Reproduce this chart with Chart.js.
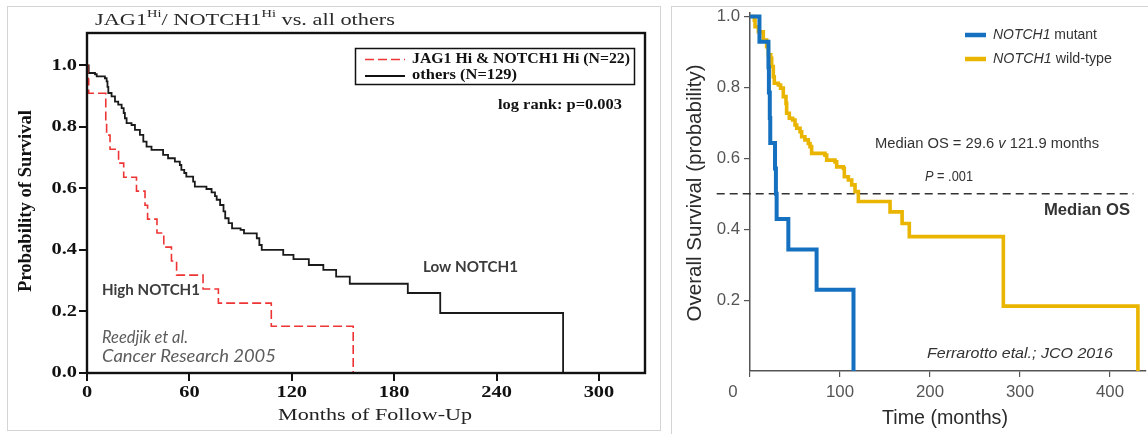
<!DOCTYPE html>
<html lang="en">
<head>
<meta charset="UTF-8">
<title>NOTCH1 survival curves</title>
<script src="https://cdn.jsdelivr.net/npm/chart.js@4.4.1/dist/chart.umd.min.js"></script>
<style>
  html, body { margin: 0; padding: 0; background: #fff; }
  body { width: 1148px; height: 434px; position: relative; overflow: hidden; }
  .frame { position: absolute; border: 1px solid #d4d4d4; box-sizing: border-box; }
  #leftFrame { left: 7px; top: 6px; width: 654px; height: 425px; }
  #rightFrame { left: 671px; top: 6px; width: 490px; height: 440px; }
  canvas { position: absolute; top: 0; }
  #leftChart { left: 0; }
  #rightChart { left: 661px; }
</style>
</head>
<body>
<div class="frame" id="leftFrame"></div>
<div class="frame" id="rightFrame"></div>
<canvas id="leftChart" width="661" height="434"></canvas>
<canvas id="rightChart" width="487" height="434"></canvas>

<script>
  // --- Reedijk 2005: months of follow-up vs probability of survival ---
  const highTimes = [0, 0.5, 1, 11, 11.5, 13.5, 18.5, 21.5, 29, 34, 35.5, 41, 45, 49.5, 52.5, 68, 77, 108, 156];
  const highSurv  = [1, 0.955, 0.909, 0.818, 0.773, 0.727, 0.682, 0.636, 0.591, 0.545, 0.5, 0.455, 0.409, 0.364, 0.318, 0.273, 0.227, 0.152, 0];

  const lowTimes = [0, 1, 4.7, 5.7, 10.5, 11.5, 12, 12.5, 14.4, 16.4, 18.3, 20.3, 21.5, 22.2, 23.2, 26.1, 28.1, 31, 33, 34.9,
                    37.8, 44.6, 47.5, 51.5, 54.4, 55.3, 57, 58.2, 62.2, 63.2, 70, 73, 75, 76, 78, 80, 81, 83, 85, 90,
                    92, 99.5, 101, 102.4, 115, 121, 130, 138.5, 146, 154, 188, 207, 279];
  const lowSurv  = [1, 0.975, 0.971, 0.964, 0.958, 0.948, 0.93, 0.91, 0.899, 0.882, 0.872, 0.861, 0.845, 0.828, 0.812, 0.806, 0.79, 0.774, 0.752, 0.736,
                    0.725, 0.709, 0.698, 0.687, 0.676, 0.66, 0.65, 0.638, 0.622, 0.606, 0.598, 0.587, 0.575, 0.563, 0.546, 0.525, 0.503, 0.487, 0.47, 0.465,
                    0.454, 0.438, 0.416, 0.4, 0.384, 0.37, 0.351, 0.335, 0.313, 0.29, 0.26, 0.195, 0];

  const leftXTicks = [0, 60, 120, 180, 240, 300];
  const leftYTicks = [0, 0.2, 0.4, 0.6, 0.8, 1.0];

  // --- Ferrarotto 2016: time (months) vs overall survival ---
  const mutTimes = [0, 10.5, 20.5, 21, 22, 22.5, 27.8, 28.8, 29.6, 42.6, 74, 115];
  const mutSurv  = [1, 0.929, 0.857, 0.786, 0.714, 0.643, 0.571, 0.5, 0.429, 0.343, 0.229, 0];

  const wtTimes = [0, 4.8, 5.6, 9.3, 14.8, 18.5, 20.4, 23, 24.1, 25.9, 27, 31.5, 34, 37, 40, 40.7, 43.7, 47.4, 50, 51.9,
                   55.6, 57.4, 61, 64.8, 66.7, 68.5, 83.3, 85.2, 94.4, 96.3, 103.7, 104.8, 109.3, 113, 116.7, 120.4, 155.6, 169, 177, 281.5, 431];
  const wtSurv  = [1, 0.99, 0.971, 0.957, 0.934, 0.915, 0.892, 0.882, 0.859, 0.83, 0.812, 0.807, 0.798, 0.774, 0.755, 0.727, 0.713, 0.708, 0.694, 0.685,
                   0.675, 0.661, 0.652, 0.642, 0.633, 0.614, 0.609, 0.595, 0.59, 0.576, 0.572, 0.548, 0.539, 0.525, 0.506, 0.478, 0.449, 0.416, 0.379, 0.183, 0];

  const medianX = [-37, 426];
  const medianLevel = 0.5;

  const rightXTicks = [0, 100, 200, 300, 400];
  const rightYTicks = [0.2, 0.4, 0.6, 0.8, 1.0];

  const SERIF = '"Liberation Serif", "Times New Roman", serif';
  const SANS = '"Liberation Sans", Arial, sans-serif';
  const LATO = 'Lato, "Open Sans", sans-serif';

  const toPoints = (times, surv) => times.map((t, i) => ({ x: t, y: surv[i] }));

  // draws a run of text pieces; optional target width squeezes/stretches horizontally
  function drawRich(ctx, segs, x, y, opts = {}) {
    const { width, sx: fixedSx, align = 'left', color = '#222', angle = 0 } = opts;
    let total = 0;
    const ws = segs.map(s => {
      ctx.font = s.font;
      const w = ctx.measureText(s.text).width;
      total += w;
      return w;
    });
    const sx = width ? width / total : (fixedSx || 1);
    ctx.save();
    ctx.translate(x, y);
    if (angle) ctx.rotate(angle);
    ctx.scale(sx, 1);
    let cx = align === 'center' ? -total / 2 : align === 'right' ? -total : 0;
    ctx.textBaseline = 'middle';
    ctx.textAlign = 'left';
    segs.forEach((s, i) => {
      ctx.font = s.font;
      ctx.fillStyle = s.color || color;
      ctx.fillText(s.text, cx, s.dy || 0);
      cx += ws[i];
    });
    ctx.restore();
  }

  const leftDecor = {
    id: 'leftDecor',
    afterDraw(chart) {
      const { ctx, chartArea: a, scales: { x, y } } = chart;
      ctx.save();
      ctx.strokeStyle = '#111';
      ctx.lineWidth = 2.4;
      ctx.strokeRect(a.left, a.top, a.right - a.left, a.bottom - a.top);

      leftYTicks.forEach(v => drawRich(ctx, [{ text: v.toFixed(1), font: `bold 17px ${SERIF}` }],
        77, y.getPixelForValue(v), { align: 'right', sx: 1.2, color: '#111' }));
      leftXTicks.forEach(v => drawRich(ctx, [{ text: String(v), font: `bold 17px ${SERIF}` }],
        x.getPixelForValue(v), 393, { align: 'center', sx: 1.2, color: '#111' }));

      drawRich(ctx, [{ text: 'Probability of Survival', font: `bold 18px ${SERIF}` }],
        26, 201, { align: 'center', angle: -Math.PI / 2, width: 182, color: '#111' });
      drawRich(ctx, [{ text: 'Months of Follow-Up', font: `17px ${SERIF}` }],
        375, 416, { align: 'center', width: 194, color: '#222' });

      drawRich(ctx, [
        { text: 'JAG1', font: `17px ${SERIF}` },
        { text: 'Hi', font: `11px ${SERIF}`, dy: -7 },
        { text: '/ NOTCH1', font: `17px ${SERIF}` },
        { text: 'Hi', font: `11px ${SERIF}`, dy: -7 },
        { text: ' vs. all others', font: `17px ${SERIF}` }
      ], 95, 21, { width: 300, color: '#2a2a2a' });

      // legend box
      ctx.lineWidth = 1.5;
      ctx.strokeStyle = '#111';
      ctx.strokeRect(355.5, 48.5, 279, 36);
      ctx.beginPath();
      ctx.setLineDash([9, 4]);
      ctx.strokeStyle = '#ee3535';
      ctx.moveTo(365, 59.5); ctx.lineTo(405, 59.5);
      ctx.stroke();
      ctx.setLineDash([]);
      ctx.beginPath();
      ctx.strokeStyle = '#111';
      ctx.lineWidth = 1.8;
      ctx.moveTo(365, 76); ctx.lineTo(405, 76);
      ctx.stroke();
      drawRich(ctx, [{ text: 'JAG1 Hi & NOTCH1 Hi (N=22)', font: `bold 15px ${SERIF}` }], 412, 59, { width: 218, color: '#111' });
      drawRich(ctx, [{ text: 'others (N=129)', font: `bold 15px ${SERIF}` }], 412, 75, { width: 105, color: '#111' });
      drawRich(ctx, [{ text: 'log rank: p=0.003', font: `bold 15px ${SERIF}` }], 498, 105, { width: 124, color: '#111' });

      drawRich(ctx, [{ text: 'High NOTCH1', font: `bold 16px ${LATO}` }], 102, 290, { width: 98, color: '#3c3c3c' });
      drawRich(ctx, [{ text: 'Low NOTCH1', font: `bold 16px ${LATO}` }], 423, 267, { width: 95, color: '#3c3c3c' });
      drawRich(ctx, [{ text: 'Reedjik et al.', font: `italic 17px ${LATO}` }], 102, 338, { width: 86, color: '#5c5c5c' });
      drawRich(ctx, [{ text: 'Cancer Research 2005', font: `italic 17px ${LATO}` }], 102, 357, { width: 174, color: '#5c5c5c' });
      ctx.restore();
    }
  };

  const rightDecor = {
    id: 'rightDecor',
    afterDraw(chart) {
      const { ctx, scales: { x, y } } = chart;
      ctx.save();
      rightYTicks.forEach(v => drawRich(ctx, [{ text: v.toFixed(1), font: `16px ${SANS}` }],
        79, y.getPixelForValue(v), { align: 'right', sx: 1.05, color: '#555' }));
      rightXTicks.forEach(v => {
        // the "0" label sits left of the axis in the original
        const px = x.getPixelForValue(v) - (v === 0 ? 17 : 0);
        drawRich(ctx, [{ text: String(v), font: `16px ${SANS}` }], px, 393, { align: 'center', sx: 1.05, color: '#555' });
      });

      drawRich(ctx, [{ text: 'Overall Survival (probability)', font: `20px ${SANS}` }],
        34, 193, { align: 'center', angle: -Math.PI / 2, width: 257, color: '#2b2b2b' });
      drawRich(ctx, [{ text: 'Time (months)', font: `21px ${SANS}` }],
        284, 418, { align: 'center', width: 126, color: '#2b2b2b' });

      // legend
      ctx.lineWidth = 4.5;
      ctx.strokeStyle = '#1670c0';
      ctx.beginPath(); ctx.moveTo(304, 35); ctx.lineTo(325, 35); ctx.stroke();
      ctx.strokeStyle = '#e9b500';
      ctx.beginPath(); ctx.moveTo(304, 59); ctx.lineTo(325, 59); ctx.stroke();
      drawRich(ctx, [
        { text: 'NOTCH1', font: `italic 14px ${SANS}` },
        { text: ' mutant', font: `14px ${SANS}` }
      ], 332, 35, { width: 104, color: '#333' });
      drawRich(ctx, [
        { text: 'NOTCH1', font: `italic 14px ${SANS}` },
        { text: ' wild-type', font: `14px ${SANS}` }
      ], 332, 59, { width: 119, color: '#333' });

      drawRich(ctx, [
        { text: 'Median OS = 29.6 ', font: `14px ${SANS}` },
        { text: 'v', font: `italic 14px ${SANS}` },
        { text: ' 121.9 months', font: `14px ${SANS}` }
      ], 214, 144, { width: 224, color: '#333' });
      drawRich(ctx, [
        { text: 'P', font: `italic 14px ${SANS}` },
        { text: ' = .001', font: `14px ${SANS}` }
      ], 264, 177, { width: 48, color: '#333' });
      drawRich(ctx, [{ text: 'Median OS', font: `bold 16.5px ${SANS}` }], 469, 210, { align: 'right', width: 86, color: '#333' });
      drawRich(ctx, [{ text: 'Ferrarotto etal.; JCO 2016', font: `italic 15px ${SANS}` }], 266, 354, { width: 186, color: '#333' });
      ctx.restore();
    }
  };

  new Chart(document.getElementById('leftChart'), {
    type: 'line',
    data: {
      datasets: [
        {
          label: 'JAG1 Hi & NOTCH1 Hi (N=22)',
          data: toPoints(highTimes, highSurv),
          borderColor: '#ee3535',
          borderWidth: 1.6,
          borderDash: [9, 4],
          stepped: 'before',
          pointRadius: 0,
          fill: false
        },
        {
          label: 'others (N=129)',
          data: toPoints(lowTimes, lowSurv),
          borderColor: '#1a1a1a',
          borderWidth: 1.8,
          stepped: 'before',
          pointRadius: 0,
          fill: false
        }
      ]
    },
    options: {
      responsive: false,
      animation: false,
      layout: { padding: { left: 0, top: 33, right: 16, bottom: 0 } },
      plugins: { legend: { display: false }, tooltip: { enabled: false } },
      scales: {
        x: {
          type: 'linear', min: 0, max: 327,
          afterBuildTicks: s => { s.ticks = leftXTicks.map(v => ({ value: v })); },
          afterFit: s => { s.height = 61; },
          ticks: { display: false, autoSkip: false },
          grid: { drawOnChartArea: false, tickLength: 8, color: '#111', lineWidth: 2 },
          border: { display: false }
        },
        y: {
          type: 'linear', min: 0, max: 1.105,
          afterBuildTicks: s => { s.ticks = leftYTicks.map(v => ({ value: v })); },
          afterFit: s => { s.width = 87; },
          ticks: { display: false, autoSkip: false },
          grid: { drawOnChartArea: false, tickLength: 8, color: '#111', lineWidth: 2 },
          border: { display: false }
        }
      }
    },
    plugins: [leftDecor]
  });

  new Chart(document.getElementById('rightChart'), {
    type: 'line',
    data: {
      datasets: [
        {
          label: 'NOTCH1 mutant',
          data: toPoints(mutTimes, mutSurv),
          borderColor: '#1670c0',
          borderWidth: 4,
          stepped: 'before',
          pointRadius: 0,
          clip: false
        },
        {
          label: 'NOTCH1 wild-type',
          data: toPoints(wtTimes, wtSurv),
          borderColor: '#e9b500',
          borderWidth: 3.6,
          stepped: 'before',
          pointRadius: 0,
          clip: false
        },
        {
          label: 'Median OS',
          data: medianX.map(t => ({ x: t, y: medianLevel })),
          borderColor: '#333',
          borderWidth: 1.6,
          borderDash: [8, 5],
          pointRadius: 0,
          clip: false
        }
      ]
    },
    options: {
      responsive: false,
      animation: false,
      layout: { padding: { left: 0, top: 13, right: 2, bottom: 0 } },
      plugins: { legend: { display: false }, tooltip: { enabled: false } },
      scales: {
        x: {
          type: 'linear', min: 0, max: 440,
          afterBuildTicks: s => { s.ticks = rightXTicks.map(v => ({ value: v })); },
          afterFit: s => { s.height = 63; },
          ticks: { display: false, autoSkip: false },
          grid: { drawOnChartArea: false, tickLength: 6, color: '#555', lineWidth: 1.2 },
          border: { display: true, color: '#555', width: 1.5 }
        },
        y: {
          type: 'linear', min: 0, max: 1.01,
          afterBuildTicks: s => { s.ticks = rightYTicks.map(v => ({ value: v })); },
          afterFit: s => { s.width = 89; },
          ticks: { display: false, autoSkip: false },
          grid: { drawOnChartArea: false, tickLength: 6, color: '#555', lineWidth: 1.2 },
          border: { display: true, color: '#555', width: 1.5 }
        }
      }
    },
    plugins: [rightDecor]
  });
</script>
</body>
</html>
